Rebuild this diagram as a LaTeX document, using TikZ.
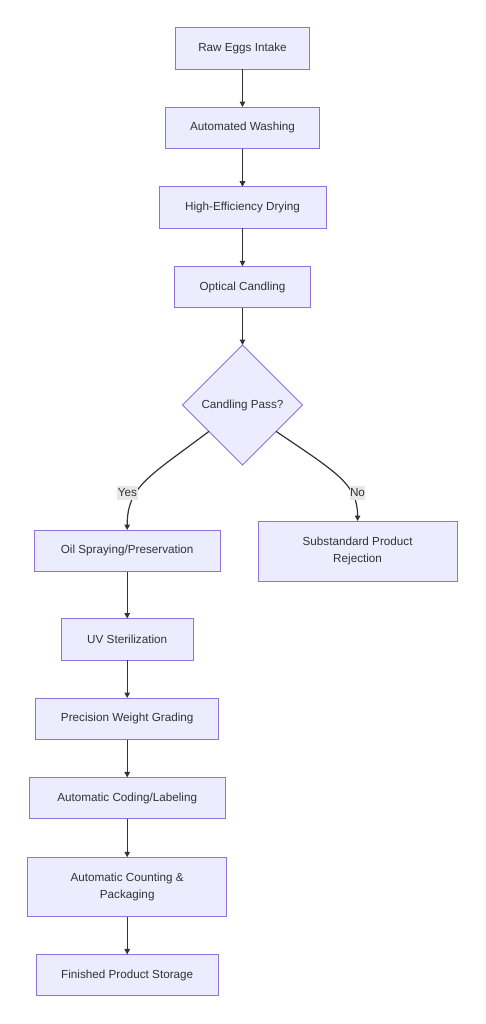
\documentclass[tikz,border=0pt]{standalone}
\usepackage{fontspec}
\setmainfont{Liberation Sans}
\usetikzlibrary{arrows.meta,shapes.geometric,calc}
\definecolor{boxfill}{HTML}{ECECFF}
\definecolor{boxline}{HTML}{9370DB}
\definecolor{edgecol}{HTML}{333333}
\definecolor{txtcol}{HTML}{333333}
\definecolor{lblfill}{HTML}{E8E8E8}
\tikzset{
  procbox/.style={draw=boxline, fill=boxfill, line width=1pt, text=txtcol,
    font=\fontsize{11.7}{17.5}\selectfont, align=center, inner sep=0pt,
    minimum height=41.5pt, outer sep=0pt},
  decbox/.style={diamond, draw=boxline, fill=boxfill, line width=1pt, text=txtcol,
    font=\fontsize{11.7}{17.5}\selectfont, inner sep=0pt, minimum width=120pt,
    minimum height=120pt, outer sep=0pt},
  flow/.style={draw=edgecol, line width=1.2pt, -{Triangle[length=5.5pt,width=5.5pt]}},
  edgelbl/.style={fill=lblfill, text=txtcol, font=\fontsize{11.7}{14}\selectfont,
    inner xsep=0.5pt, inner ysep=3pt}
}
\begin{document}
\begin{tikzpicture}[x=1pt,y=-1pt]
\useasboundingbox (0,0) rectangle (485,1024);
\node[procbox, minimum width=134pt] (n1) at (242.5,48.7) {Raw Eggs Intake};
\node[procbox, minimum width=154pt] (n2) at (242.5,127.8) {Automated Washing};
\node[procbox, minimum width=167pt] (n3) at (242.5,207.5) {High-Efficiency Drying};
\node[procbox, minimum width=136pt] (n4) at (242.5,287) {Optical Candling};
\node[decbox] (d) at (242.5,405) {Candling Pass?};
\node[procbox, minimum width=186pt] (n6) at (127.2,550.8) {Oil Spraying/Preservation};
\node[procbox, minimum width=199pt, minimum height=60pt] (n7) at (357.6,551) {Substandard Product\\Rejection};
\node[procbox, minimum width=132pt] (n8) at (127.2,639.3) {UV Sterilization};
\node[procbox, minimum width=183pt] (n9) at (127.2,718.8) {Precision Weight Grading};
\node[procbox, minimum width=196pt] (n10) at (127.2,798.2) {Automatic Coding/Labeling};
\node[procbox, minimum width=199pt, minimum height=59.5pt] (n11) at (127.2,887) {Automatic Counting \&\\Packaging};
\node[procbox, minimum width=182pt] (n12) at (127.2,975.2) {Finished Product Storage};

\draw[flow] (n1) -- (n2);
\draw[flow] (n2) -- (n3);
\draw[flow] (n3) -- (n4);
\draw[flow] (n4) -- (d);
\coordinate (ys) at ($(d.west)!0.44!(d.south)$);
\coordinate (ns) at ($(d.east)!0.44!(d.south)$);
\draw[flow] (ys) .. controls (150,476) and (127.2,486) .. (n6.north);
\draw[flow] (ns) .. controls (336,472) and (357.6,484) .. (n7.north);
\node[edgelbl] (ly) at (127.5,493) {Yes};
\node[edgelbl] (ln) at (357.5,493) {No};
\draw[flow] (n6) -- (n8);
\draw[flow] (n8) -- (n9);
\draw[flow] (n9) -- (n10);
\draw[flow] (n10) -- (n11);
\draw[flow] (n11) -- (n12);
\end{tikzpicture}
\end{document}
